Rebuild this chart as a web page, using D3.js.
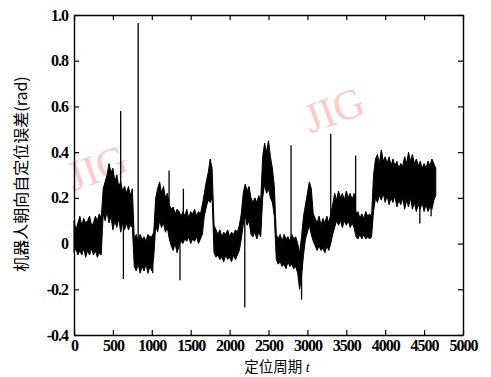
<!DOCTYPE html>
<html>
<head>
<meta charset="utf-8">
<script src="https://cdn.jsdelivr.net/npm/d3@7"></script>
<style>
  body { margin: 0; background: #fff; }
  svg { display: block; }
  .tick text { font-family: "Liberation Serif", "DejaVu Serif", serif; font-size: 16px; font-weight: bold; fill: #000; letter-spacing: -1px; }
</style>
</head>
<body>
<svg id="chart" width="491" height="377"></svg>
<script>
// localisation cycle (windows of 25 cycles)
const cycles = [0, 25, 50, 75, 100, 125, 150, 175, 200, 225, 250, 275, 300, 325, 350, 375,
  400, 425, 450, 475, 500, 525, 550, 575, 600, 625, 650, 675, 700, 725, 750, 775,
  800, 825, 850, 875, 900, 925, 950, 975, 1000, 1025, 1050, 1075, 1100, 1125, 1150, 1175,
  1200, 1225, 1250, 1275, 1300, 1325, 1350, 1375, 1400, 1425, 1450, 1475, 1500, 1525, 1550, 1575,
  1600, 1625, 1650, 1675, 1700, 1725, 1750, 1775, 1800, 1825, 1850, 1875, 1900, 1925, 1950, 1975,
  2000, 2025, 2050, 2075, 2100, 2125, 2150, 2175, 2200, 2225, 2250, 2275, 2300, 2325, 2350, 2375,
  2400, 2425, 2450, 2475, 2500, 2525, 2550, 2575, 2600, 2625, 2650, 2675, 2700, 2725, 2750, 2775,
  2800, 2825, 2850, 2875, 2900, 2925, 2950, 2975, 3000, 3025, 3050, 3075, 3100, 3125, 3150, 3175,
  3200, 3225, 3250, 3275, 3300, 3325, 3350, 3375, 3400, 3425, 3450, 3475, 3500, 3525, 3550, 3575,
  3600, 3625, 3650, 3675, 3700, 3725, 3750, 3775, 3800, 3825, 3850, 3875, 3900, 3925, 3950, 3975,
  4000, 4025, 4050, 4075, 4100, 4125, 4150, 4175, 4200, 4225, 4250, 4275, 4300, 4325, 4350, 4375,
  4400, 4425, 4450, 4475, 4500, 4525, 4550, 4575, 4600, 4625, 4650];

// upper / lower envelope of the heading error (rad) in each window
const upper = [0.10, 0.06, 0.09, 0.12, 0.08, 0.11, 0.09, 0.10, 0.12, 0.08, 0.09, 0.12, 0.10, 0.13, 0.11, 0.24,
  0.27, 0.30, 0.35, 0.31, 0.33, 0.27, 0.30, 0.25, 0.27, 0.23, 0.25, 0.22, 0.25, 0.21, 0.24, 0.02,
  0.04, 0.01, 0.04, 0.02, 0.03, 0.01, 0.04, 0.03, 0.03, 0.05, 0.20, 0.24, 0.27, 0.22, 0.25, 0.20,
  0.22, 0.17, 0.15, 0.16, 0.13, 0.15, 0.14, 0.12, 0.14, 0.12, 0.15, 0.11, 0.14, 0.13, 0.15, 0.12,
  0.14, 0.13, 0.17, 0.22, 0.27, 0.31, 0.37, 0.33, 0.08, 0.06, 0.04, 0.06, 0.03, 0.05, 0.04, 0.06,
  0.03, 0.05, 0.04, 0.06, 0.05, 0.08, 0.13, 0.22, 0.26, 0.23, 0.25, 0.20, 0.18, 0.20, 0.18, 0.21,
  0.19, 0.38, 0.44, 0.40, 0.45, 0.38, 0.33, 0.25, 0.04, 0.02, 0.04, 0.01, 0.04, 0.02, 0.03, 0.01,
  0.04, 0.02, 0.03, 0.00, -0.04, 0.03, 0.12, 0.17, 0.22, 0.27, 0.24, 0.13, 0.11, 0.09, 0.12, 0.08,
  0.11, 0.09, 0.12, 0.09, 0.13, 0.17, 0.22, 0.19, 0.23, 0.20, 0.22, 0.19, 0.23, 0.20, 0.22, 0.19,
  0.22, 0.13, 0.14, 0.11, 0.13, 0.11, 0.14, 0.12, 0.13, 0.12, 0.30, 0.37, 0.39, 0.35, 0.41, 0.36,
  0.38, 0.35, 0.38, 0.34, 0.37, 0.34, 0.36, 0.33, 0.35, 0.34, 0.38, 0.35, 0.40, 0.36, 0.39, 0.35,
  0.37, 0.34, 0.36, 0.33, 0.35, 0.33, 0.36, 0.34, 0.37, 0.35, 0.33];
const lower = [-0.04, -0.02, -0.05, -0.03, -0.05, -0.02, -0.06, -0.03, -0.05, -0.02, -0.05, -0.03, -0.06, -0.04, -0.05, 0.13,
  0.10, 0.14, 0.09, 0.12, 0.06, 0.10, 0.07, 0.11, 0.05, 0.09, 0.06, 0.09, 0.06, 0.08, 0.07, -0.10,
  -0.12, -0.09, -0.13, -0.10, -0.12, -0.09, -0.13, -0.10, -0.12, -0.06, 0.08, 0.05, 0.10, 0.07, 0.09, 0.05,
  0.07, 0.02, -0.01, -0.03, 0.00, -0.04, -0.01, 0.01, 0.00, 0.02, 0.01, 0.03, 0.00, 0.02, 0.01, 0.03,
  0.00, 0.02, 0.04, 0.12, 0.16, 0.19, 0.18, 0.20, -0.04, -0.06, -0.05, -0.07, -0.06, -0.08, -0.05, -0.07,
  -0.06, -0.08, -0.05, -0.07, -0.05, -0.03, 0.02, 0.08, 0.12, 0.08, 0.10, 0.04, 0.03, 0.05, 0.02, 0.05,
  0.03, 0.20, 0.26, 0.22, 0.24, 0.20, 0.18, 0.12, -0.07, -0.09, -0.08, -0.10, -0.09, -0.11, -0.08, -0.10,
  -0.09, -0.11, -0.10, -0.13, -0.20, -0.14, -0.05, 0.02, 0.05, 0.08, 0.04, 0.01, -0.01, -0.03, -0.01, -0.03,
  -0.02, -0.04, -0.01, -0.03, 0.00, 0.04, 0.07, 0.10, 0.08, 0.10, 0.07, 0.10, 0.08, 0.10, 0.07, 0.09,
  0.07, 0.03, 0.02, 0.04, 0.02, 0.04, 0.02, 0.03, 0.02, 0.03, 0.14, 0.20, 0.18, 0.21, 0.19, 0.22,
  0.18, 0.21, 0.17, 0.20, 0.18, 0.21, 0.16, 0.19, 0.17, 0.20, 0.15, 0.19, 0.16, 0.20, 0.15, 0.18,
  0.14, 0.17, 0.15, 0.18, 0.14, 0.17, 0.14, 0.16, 0.15, 0.19, 0.21];

// isolated outliers: cycle, level they leave from, peak value
const spikeAt   = [600, 635, 825, 1012, 1222, 1362, 1406, 2195, 2790, 2925, 3300, 3620, 4445, 4590];
const spikeBase = [0.20, 0.10, 0.00, -0.05, 0.10, 0.00, 0.05, 0.10, 0.00, -0.10, 0.05, 0.10, 0.20, 0.20];
const spikeTip  = [0.58, -0.155, 0.965, -0.13, 0.32, -0.16, 0.24, -0.28, 0.43, -0.245, 0.48, 0.385, 0.088, 0.12];

const xTicks = [0, 500, 1000, 1500, 2000, 2500, 3000, 3500, 4000, 4500, 5000];
const yTicks = [-0.4, -0.2, 0, 0.2, 0.4, 0.6, 0.8, 1.0];

const svg = d3.select('#chart');
const margin = { top: 15, right: 28, bottom: 42, left: 74 };
const width = 491 - margin.left - margin.right;
const height = 377 - margin.top - margin.bottom;

const x = d3.scaleLinear().domain([0, 5000]).range([0, width]);
const y = d3.scaleLinear().domain([-0.4, 1.0]).range([height, 0]);

// watermarks
[[97, 168], [334, 110]].forEach(([cx, cy]) => {
  svg.append('text')
    .attr('transform', `translate(${cx},${cy}) rotate(-20)`)
    .attr('text-anchor', 'middle')
    .attr('dominant-baseline', 'central')
    .style('font-family', '"Liberation Serif", serif')
    .style('font-size', '42px')
    .style('fill', '#fcc8c8')
    .text('JIG');
});

const g = svg.append('g').attr('transform', `translate(${margin.left},${margin.top})`);

const series = cycles.map((t, i) => ({ t, hi: upper[i], lo: lower[i] }));

// dense noise band
const area = d3.area()
  .x(d => x(d.t))
  .y0(d => y(d.lo))
  .y1(d => y(d.hi));

g.append('path')
  .datum(series)
  .attr('d', area)
  .style('fill', '#000')
  .style('stroke', '#000')
  .style('stroke-width', 1);

// outliers
g.selectAll('.spike')
  .data(spikeAt.map((t, i) => ({ t, b: spikeBase[i], v: spikeTip[i] })))
  .enter().append('line')
  .attr('class', 'spike')
  .attr('x1', d => x(d.t)).attr('x2', d => x(d.t))
  .attr('y1', d => y(d.b)).attr('y2', d => y(d.v))
  .style('stroke', '#000')
  .style('stroke-width', 1.3);

// axes (MATLAB style: ticks inside, box all round)
const fmt = d => d === 0 ? '0' : d.toFixed(1);

g.append('g')
  .attr('transform', `translate(0,${height})`)
  .call(d3.axisBottom(x).tickValues(xTicks).tickSize(-5).tickSizeOuter(0).tickPadding(5).tickFormat(d3.format('d')));
g.append('g')
  .call(d3.axisTop(x).tickValues(xTicks).tickSize(-5).tickSizeOuter(0).tickFormat(''));
g.append('g')
  .call(d3.axisLeft(y).tickValues(yTicks).tickSize(-5).tickSizeOuter(0).tickPadding(6).tickFormat(fmt));
g.append('g')
  .attr('transform', `translate(${width},0)`)
  .call(d3.axisRight(y).tickValues(yTicks).tickSize(-5).tickSizeOuter(0).tickFormat(''));

g.selectAll('.domain').style('stroke', '#000').style('stroke-width', 1.4);
g.selectAll('.tick line').style('stroke', '#000').style('stroke-width', 1.2);

// axis titles
const xt = svg.append('text')
  .attr('x', 277)
  .attr('y', 372)
  .attr('text-anchor', 'middle')
  .style('font-family', '"Noto Sans CJK SC", sans-serif')
  .style('font-size', '14.5px')
  .style('fill', '#000');
xt.append('tspan').text('定位周期');
xt.append('tspan').text(' t')
  .style('font-family', '"Liberation Serif", serif')
  .style('font-style', 'italic');

svg.append('text')
  .attr('transform', `translate(27,174) rotate(-90)`)
  .attr('text-anchor', 'middle')
  .style('font-family', '"Noto Sans CJK SC", sans-serif')
  .style('font-size', '16px')
  .style('fill', '#000')
  .text('机器人朝向自定位误差(rad)');
</script>
</body>
</html>
